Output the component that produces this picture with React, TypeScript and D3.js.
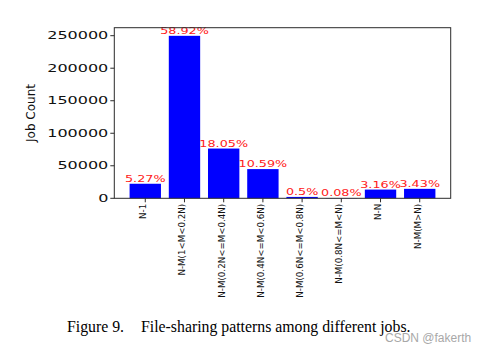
import React, { useEffect, useRef } from 'react';
import * as d3 from 'd3';

// Job count per file-sharing pattern
const categories = [
  'N-1',
  'N-M(1<M<0.2N)',
  'N-M(0.2N<=M<0.4N)',
  'N-M(0.4N<=M<0.6N)',
  'N-M(0.6N<=M<0.8N)',
  'N-M(0.8N<=M<N)',
  'N-N',
  'N-M(M>N)',
];
const jobCounts = [22350, 249800, 76500, 44900, 2120, 340, 13400, 14540];
const percentLabels = ['5.27%', '58.92%', '18.05%', '10.59%', '0.5%', '0.08%', '3.16%', '3.43%'];
const yTicks = [0, 50000, 100000, 150000, 200000, 250000];

const W = 488;
const H = 353;

const App: React.FC = () => {
  const svgRef = useRef<SVGSVGElement>(null);

  useEffect(() => {
    if (!svgRef.current) return;
    const svg = d3.select(svgRef.current);
    svg.selectAll('*').remove();

    const margin = { top: 27.7, right: W - 450.7, bottom: H - 198.3, left: 114.3 };
    const innerWidth = W - margin.left - margin.right;
    const innerHeight = H - margin.top - margin.bottom;

    const g = svg.append('g')
      .attr('transform', `translate(${margin.left},${margin.top})`);

    // matplotlib-like x positions: bar width 0.8, 5% margins
    const n = categories.length;
    const lo = -0.4 - 0.05 * (n - 1 + 0.8);
    const hi = n - 1 + 0.4 + 0.05 * (n - 1 + 0.8);
    const x = d3.scaleLinear().domain([lo, hi]).range([0, innerWidth]);
    const barW = x(0.8) - x(0);

    const maxY = d3.max(jobCounts) || 1;
    const y = d3.scaleLinear().domain([0, maxY * 1.05]).range([innerHeight, 0]);

    // Bars
    g.append('g')
      .selectAll('rect')
      .data(jobCounts)
      .enter()
      .append('rect')
      .attr('x', (_, i) => x(i) - barW / 2)
      .attr('y', d => y(d))
      .attr('width', barW)
      .attr('height', d => innerHeight - y(d))
      .attr('fill', '#0000ff');

    // Percentage labels (stretched horizontally like the reference)
    g.append('g')
      .selectAll('text')
      .data(jobCounts)
      .enter()
      .append('text')
      .attr('transform', (d, i) => `translate(${x(i)},${y(d) - 1.6}) scale(1.39,1)`)
      .attr('text-anchor', 'middle')
      .attr('font-family', 'DejaVu Sans')
      .attr('font-size', 9.2)
      .attr('fill', '#ff2020')
      .text((_, i) => percentLabels[i]);

    // Frame
    g.append('rect')
      .attr('x', 0)
      .attr('y', 0)
      .attr('width', innerWidth)
      .attr('height', innerHeight)
      .attr('fill', 'none')
      .attr('stroke', '#2b2b2b')
      .attr('stroke-width', 1);

    // Y axis ticks
    const yAxis = g.append('g');
    yAxis.selectAll('line')
      .data(yTicks)
      .enter()
      .append('line')
      .attr('x1', -4)
      .attr('x2', 0)
      .attr('y1', d => y(d))
      .attr('y2', d => y(d))
      .attr('stroke', '#2b2b2b');
    yAxis.selectAll('text')
      .data(yTicks)
      .enter()
      .append('text')
      .attr('transform', d => `translate(-6,${y(d)}) scale(1.6,1)`)
      .attr('dy', '0.36em')
      .attr('text-anchor', 'end')
      .attr('font-family', 'DejaVu Sans')
      .attr('font-size', 10)
      .attr('fill', '#111')
      .text(d => String(d));

    // X axis ticks
    const xAxis = g.append('g').attr('transform', `translate(0,${innerHeight})`);
    xAxis.selectAll('line')
      .data(categories)
      .enter()
      .append('line')
      .attr('x1', (_, i) => x(i))
      .attr('x2', (_, i) => x(i))
      .attr('y1', 0)
      .attr('y2', 4)
      .attr('stroke', '#2b2b2b');
    xAxis.selectAll('text')
      .data(categories)
      .enter()
      .append('text')
      .attr('transform', (_, i) => `translate(${x(i)},5.5) rotate(-90)`)
      .attr('dy', '0.1em')
      .attr('text-anchor', 'end')
      .attr('font-family', 'DejaVu Sans')
      .attr('font-size', 8.7)
      .attr('fill', '#111')
      .text(d => d);

    // Y label
    svg.append('text')
      .attr('transform', `translate(35,113) rotate(-90)`)
      .attr('text-anchor', 'middle')
      .attr('font-family', 'DejaVu Sans')
      .attr('font-size', 12)
      .attr('fill', '#111')
      .text('Job Count');

    // Caption
    svg.append('text')
      .attr('x', 67)
      .attr('y', 332)
      .attr('font-family', 'Liberation Serif')
      .attr('font-size', 15.8)
      .attr('fill', '#000')
      .text('Figure 9.');
    svg.append('text')
      .attr('x', 141)
      .attr('y', 332)
      .attr('font-family', 'Liberation Serif')
      .attr('font-size', 15.8)
      .attr('fill', '#000')
      .text('File-sharing patterns among different jobs.');

    // Watermark
    svg.append('text')
      .attr('x', 385)
      .attr('y', 342)
      .attr('font-family', 'Liberation Sans')
      .attr('font-size', 12)
      .attr('fill', '#a8a8a8')
      .text('CSDN @fakerth');
  }, []);

  return (
    <svg
      ref={svgRef}
      width={W}
      height={H}
      style={{ position: 'absolute', left: 0, top: 0, background: '#fff' }}
    />
  );
};

export default App;
